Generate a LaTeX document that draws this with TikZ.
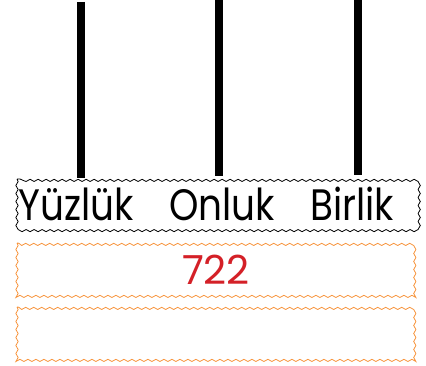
\documentclass[tikz,border=0pt]{standalone}
\usepackage{fontspec}
\setmainfont{Poppins}
\usetikzlibrary{decorations.pathmorphing}
\definecolor{wavyorange}{HTML}{F7943C}
\definecolor{numred}{HTML}{D42027}
\tikzset{
  rod/.style={line width=8pt},
  wavybox/.style={decorate, decoration={snake, amplitude=1.1pt, segment length=8pt}, line width=0.8pt},
  label/.style={font=\fontsize{44}{44}\selectfont, inner sep=0pt, anchor=base},
}
\begin{document}
\begin{tikzpicture}[x=1pt,y=-1pt]
\useasboundingbox (0,0) rectangle (426,366);
% rods
\coordinate (r1t) at (81,2);   \coordinate (r1b) at (81,178);
\coordinate (r2t) at (219,0);  \coordinate (r2b) at (219,176);
\coordinate (r3t) at (358,0);  \coordinate (r3b) at (358,175);
\draw[rod] (r1t) -- (r1b);
\draw[rod] (r2t) -- (r2b);
\draw[rod] (r3t) -- (r3b);
% boxes
\draw[wavybox, black] (17,179) rectangle (416,228);
\draw[wavybox, wavyorange] (17,243) rectangle (416,295);
\draw[wavybox, wavyorange] (17,307) rectangle (416,359);
% labels
\node[label, xscale=0.85] (y) at (76,221) {Yüzlük};
\node[label, xscale=0.85] (o) at (222,221) {Onluk};
\node[label, xscale=0.85] (b) at (352,221) {Birlik};
\node[label, text=numred, font=\fontsize{40}{40}\selectfont] (n) at (216,285) {722};
\end{tikzpicture}
\end{document}
